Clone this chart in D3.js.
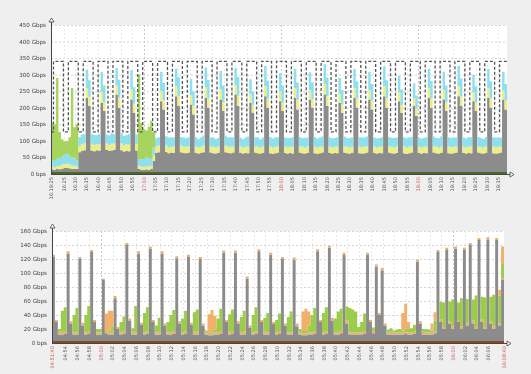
<!DOCTYPE html>
<html>
<head>
<meta charset="utf-8">
<script src="https://cdn.jsdelivr.net/npm/d3@7"></script>
<style>
  html, body { margin: 0; padding: 0; background: #efefef; }
  svg { display: block; font-family: "DejaVu Sans", sans-serif; }
</style>
</head>
<body>
<div id="chart"></div>
<script>
// ---- upper graph: one sample every 65 s from 16:19:25 ----
const topStart = Date.UTC(2013, 9, 23, 16, 19, 25);
const topStep = 65;
const topYTicks = [0, 50, 100, 150, 200, 250, 300, 350, 400, 450];
const topStartLabel = '16:19:25';

const topGray = [
  14, 13, 15, 14, 16, 18,   18, 17, 15, 16, 15, 66,
  70, 72, 230, 205, 71, 69,  72, 70, 215, 190, 73, 70,
  71, 73, 240, 200, 72, 68,  70, 69, 225, 185, 71, 15,
  13, 12, 14, 13, 15, 40,    64, 66, 220, 195, 67, 63,
  65, 64, 235, 205, 66, 64,  63, 65, 210, 180, 64, 62,
  64, 66, 230, 200, 65, 63,  62, 64, 225, 190, 66, 64,
  63, 65, 240, 205, 64, 62,  64, 63, 215, 185, 65, 63,
  62, 64, 235, 200, 63, 61,  63, 65, 220, 190, 64, 62,
  64, 62, 230, 195, 65, 63,  62, 64, 225, 200, 63, 61,
  63, 65, 240, 205, 64, 62,  64, 63, 215, 185, 65, 63,
  62, 64, 230, 200, 63, 62,  63, 65, 225, 195, 64, 62,
  64, 63, 235, 200, 65, 63,  62, 64, 220, 185, 63, 61,
  63, 65, 205, 175, 64, 62,  64, 63, 230, 200, 65, 63,
  62, 64, 225, 190, 63, 62,  63, 65, 235, 205, 64, 62,
  64, 63, 220, 190, 65, 63,  62, 64, 230, 200, 63, 62,
  63, 65, 225, 195
];
const topYellow = [
  8, 7, 9, 10, 12, 12,       13, 12, 10, 9, 8, 18,
  19, 21, 30, 28, 20, 18,    18, 20, 32, 26, 19, 17,
  20, 19, 28, 30, 21, 18,    19, 20, 30, 27, 20, 10,
  9, 8, 9, 10, 9, 15,        18, 20, 31, 28, 19, 17,
  17, 19, 29, 30, 20, 18,    19, 18, 27, 25, 19, 17,
  18, 20, 32, 29, 18, 19,    17, 19, 30, 27, 20, 18,
  19, 18, 28, 31, 19, 17,    18, 20, 26, 24, 18, 19,
  17, 19, 31, 28, 20, 18,    19, 18, 29, 27, 19, 17,
  18, 20, 30, 29, 18, 19,    17, 19, 28, 26, 20, 18,
  19, 18, 32, 30, 19, 17,    18, 20, 27, 25, 18, 19,
  17, 19, 30, 28, 20, 18,    19, 18, 29, 27, 19, 17,
  18, 20, 31, 29, 18, 19,    17, 19, 26, 24, 20, 18,
  19, 18, 24, 22, 19, 17,    18, 20, 30, 28, 18, 19,
  17, 19, 29, 27, 20, 18,    19, 18, 31, 29, 19, 17,
  18, 20, 28, 26, 18, 19,    17, 19, 30, 28, 20, 18,
  19, 18, 29, 27
];
const topCyan = [
  18, 20, 22, 25, 24, 28,    30, 26, 25, 22, 18, 28,
  30, 27, 55, 50, 29, 31,    28, 30, 60, 48, 27, 30,
  31, 28, 52, 55, 30, 29,    29, 31, 58, 50, 28, 20,
  22, 25, 28, 25, 22, 25,    27, 25, 57, 52, 28, 30,
  29, 27, 55, 58, 26, 28,    26, 28, 50, 45, 29, 27,
  28, 30, 60, 55, 27, 29,    27, 26, 56, 50, 30, 28,
  29, 28, 52, 58, 27, 26,    28, 30, 45, 40, 28, 29,
  26, 27, 60, 54, 29, 28,    29, 28, 55, 50, 27, 30,
  27, 29, 58, 52, 28, 27,    30, 27, 54, 50, 29, 28,
  28, 30, 60, 56, 27, 29,    27, 28, 48, 44, 30, 27,
  29, 27, 57, 52, 28, 30,    28, 30, 55, 50, 27, 28,
  27, 28, 59, 54, 29, 27,    30, 27, 50, 46, 28, 29,
  28, 29, 45, 40, 27, 28,    27, 28, 58, 53, 30, 27,
  29, 30, 55, 50, 28, 29,    28, 27, 60, 55, 27, 28,
  30, 28, 52, 48, 29, 27,    27, 29, 57, 52, 28, 30,
  28, 27, 55, 50
];
const topGreen = [
  114, 110, 244, 78, 53, 41, 39, 56, 210, 94, 110, 0,
  0, 0, 0, 0, 0, 0,          0, 0, 2, 3, 0, 0,
  0, 0, 0, 0, 0, 0,          0, 0, 0, 0, 0, 255,
  110, 90, 80, 95, 115, 45,  0, 0, 0, 0, 0, 0,
  0, 0, 0, 0, 0, 0,          0, 0, 0, 0, 0, 0,
  0, 0, 0, 0, 0, 0,          0, 0, 0, 0, 0, 0,
  0, 0, 0, 0, 0, 0,          0, 0, 0, 0, 0, 0,
  0, 0, 0, 0, 0, 0,          0, 0, 0, 0, 0, 0,
  0, 0, 0, 0, 0, 0,          0, 0, 0, 0, 0, 0,
  0, 0, 0, 0, 0, 0,          0, 0, 0, 0, 0, 0,
  0, 0, 0, 0, 0, 0,          0, 0, 0, 0, 0, 0,
  0, 0, 0, 0, 0, 0,          0, 0, 0, 0, 0, 0,
  0, 0, 0, 0, 0, 0,          0, 0, 0, 0, 0, 0,
  0, 0, 0, 0, 0, 0,          0, 0, 0, 0, 0, 0,
  0, 0, 0, 0, 0, 0,          0, 0, 0, 0, 0, 0,
  0, 0, 0, 0
];
// dashed limit line
const topLimit = [
  127, 340, 340, 340, 340, 127,  127, 340, 340, 340, 340, 127,
  127, 340, 340, 340, 340, 127,  127, 340, 340, 340, 340, 127,
  127, 340, 340, 340, 340, 127,  127, 340, 340, 340, 340, 127,
  127, 340, 340, 340, 340, 127,  127, 340, 340, 340, 340, 127,
  127, 340, 340, 340, 340, 127,  127, 340, 340, 340, 340, 127,
  127, 340, 340, 340, 340, 127,  127, 340, 340, 340, 340, 127,
  127, 340, 340, 340, 340, 127,  127, 340, 340, 340, 340, 127,
  127, 340, 340, 340, 340, 127,  127, 340, 340, 340, 340, 127,
  127, 340, 340, 340, 340, 127,  127, 340, 340, 340, 340, 127,
  127, 340, 340, 340, 340, 127,  127, 340, 340, 340, 340, 127,
  127, 340, 340, 340, 340, 127,  127, 340, 340, 340, 340, 127,
  127, 340, 340, 340, 340, 127,  127, 340, 340, 340, 340, 127,
  127, 340, 340, 340, 340, 127,  127, 340, 340, 340, 340, 127,
  127, 340, 340, 340, 340, 127,  127, 340, 340, 340, 340, 127,
  127, 340, 340, 340, 340, 127,  127, 340, 340, 340, 340, 127,
  127, 340, 340, 340
];

// ---- lower graph: one sample every 30 s from 04:51:40 ----
const botStart = Date.UTC(2013, 9, 24, 4, 51, 40);
const botStep = 30;
const botYTicks = [0, 20, 40, 60, 80, 100, 120, 140, 160];
const botStartLabel = '04:51:40';
const botEndLabel = '06:08:40';

const botGray = [
  123, 30, 12, 12, 13, 128, 28, 12,   12, 120, 25, 12, 13, 130, 30, 12,
  12, 90, 14, 12, 12, 64, 20, 12,     13, 140, 32, 12, 12, 128, 26, 12,
  13, 135, 30, 12, 12, 128, 25, 12,   12, 13, 121, 28, 12, 13, 123, 26,
  12, 12, 120, 25, 12, 11, 11, 12,    12, 13, 129, 30, 12, 13, 129, 28,
  12, 12, 92, 22, 12, 13, 131, 30,    12, 12, 126, 27, 12, 13, 120, 25,
  12, 12, 119, 24, 12, 11, 11, 12,    12, 13, 131, 30, 12, 13, 136, 32,
  12, 12, 14, 126, 28, 12, 12, 12,    12, 12, 13, 126, 30, 14, 109, 40,
  104, 25, 12, 12, 12, 12, 12, 12,    13, 12, 12, 13, 116, 28, 12, 12,
  12, 12, 14, 130, 30, 20, 133, 28,   20, 135, 30, 20, 133, 25, 140, 28,
  20, 147, 30, 20, 148, 28, 20, 147,  25, 90
];
const botTan = [
  3, 3, 3, 4, 3, 3, 3, 3,   3, 3, 4, 3, 3, 3, 3, 3,
  3, 2, 3, 3, 4, 3, 3, 3,   3, 3, 3, 4, 3, 3, 3, 3,
  3, 3, 3, 3, 4, 3, 3, 3,   3, 4, 3, 3, 3, 3, 3, 3,
  4, 3, 3, 3, 3, 3, 4, 3,   3, 3, 3, 3, 4, 3, 3, 3,
  3, 4, 3, 3, 3, 3, 3, 3,   4, 3, 3, 3, 3, 4, 3, 3,
  3, 3, 3, 4, 3, 3, 3, 3,   3, 4, 3, 3, 3, 3, 3, 4,
  3, 3, 3, 3, 4, 3, 3, 3,   3, 3, 4, 3, 3, 3, 3, 3,
  3, 3, 3, 4, 3, 3, 3, 3,   4, 3, 3, 3, 3, 3, 4, 3,
  3, 3, 3, 3, 4, 3, 3, 3,   4, 3, 3, 4, 3, 3, 3, 4,
  3, 3, 4, 3, 3, 3, 4, 3,   3, 3
];
const botGreen = [
  0, 0, 5, 30, 35, 0, 0, 25,    35, 0, 0, 25, 37, 0, 0, 5,
  5, 0, 0, 3, 8, 0, 0, 15,      22, 0, 0, 5, 38, 0, 0, 28,
  35, 0, 0, 10, 20, 0, 0, 15,   25, 30, 0, 0, 20, 30, 0, 0,
  28, 33, 0, 0, 3, 2, 2, 4,     20, 33, 0, 0, 25, 32, 0, 0,
  22, 30, 0, 0, 25, 35, 0, 0,   20, 28, 0, 0, 18, 25, 0, 0,
  22, 30, 0, 0, 5, 3, 3, 10,    25, 33, 0, 0, 28, 35, 0, 0,
  20, 30, 32, 0, 20, 35, 33, 30, 8, 15, 25, 0, 0, 5, 0, 0,
  0, 0, 4, 5, 3, 4, 5, 3,       4, 5, 6, 10, 0, 0, 4, 5,
  4, 3, 15, 0, 25, 35, 0, 28,   38, 0, 25, 40, 0, 35, 0, 30,
  45, 0, 32, 42, 0, 35, 45, 0,  40, 20
];
const botOrange = [
  0, 0, 0, 0, 0, 0, 0, 0,       0, 0, 0, 0, 0, 0, 0, 0,
  0, 0, 25, 28, 22, 0, 0, 0,    0, 0, 0, 0, 0, 0, 0, 0,
  0, 0, 0, 0, 0, 0, 0, 0,       0, 0, 0, 0, 0, 0, 0, 0,
  0, 0, 0, 0, 0, 25, 30, 20,    0, 0, 0, 0, 0, 0, 0, 0,
  0, 0, 0, 0, 0, 0, 0, 0,       0, 0, 0, 0, 0, 0, 0, 0,
  0, 0, 0, 0, 0, 28, 32, 20,    0, 0, 0, 0, 0, 0, 0, 0,
  0, 0, 0, 0, 0, 0, 0, 0,       0, 0, 0, 0, 0, 0, 0, 0,
  0, 0, 0, 0, 0, 0, 0, 25,      35, 10, 0, 0, 0, 0, 0, 0,
  0, 10, 12, 0, 0, 0, 0, 0,     0, 0, 0, 0, 0, 0, 0, 0,
  0, 0, 0, 0, 0, 0, 0, 0,       8, 25
];

const width = 531, height = 374;
const svg = d3.select('#chart').append('svg')
  .attr('width', width)
  .attr('height', height)
  .style('background', '#efefef');

// the reference screenshot is soft, so everything is blurred slightly
svg.append('defs').append('filter')
  .attr('id', 'soft')
  .attr('x', '-5%').attr('y', '-5%').attr('width', '110%').attr('height', '110%')
  .append('feGaussianBlur')
  .attr('stdDeviation', 0.45);

function gbps(v) {
  return v === 0 ? '0 bps' : v + ' Gbps';
}

function drawGraph(g) {
  const n = g.series[0].values.length;
  const t0 = g.start, t1 = g.start + n * g.step * 1000;
  const x = d3.scaleUtc().domain([t0, t1]).range([g.left, g.right]);
  const y = d3.scaleLinear().domain([0, g.yMax]).range([g.bottom, g.top]);
  const root = svg.append('g').attr('filter', 'url(#soft)');

  root.append('rect')
    .attr('x', g.left).attr('y', g.top)
    .attr('width', g.right - g.left).attr('height', g.bottom - g.top)
    .attr('fill', '#ffffff');

  // grid
  const ticks = x.ticks(d3.utcMinute.every(g.tickMinutes))
    .filter(t => x(t) - g.left > 8 && g.right - x(t) > 8);
  root.selectAll(null).data(g.yTicks.slice(1)).join('line')
    .attr('x1', g.left).attr('x2', g.right)
    .attr('y1', d => y(d) + 0.5).attr('y2', d => y(d) + 0.5)
    .attr('stroke', '#d4d4d4').attr('stroke-dasharray', '2,2');
  root.selectAll(null).data(ticks).join('line')
    .attr('x1', d => Math.round(x(d)) + 0.5).attr('x2', d => Math.round(x(d)) + 0.5)
    .attr('y1', g.top).attr('y2', g.bottom)
    .attr('stroke', d => d.getUTCMinutes() === 0 ? '#c8c8c8' : '#e8e8e8')
    .attr('stroke-dasharray', '2,2');

  // stacked areas
  const rows = d3.range(n).map(i => {
    const r = { t: t0 + i * g.step * 1000 };
    g.series.forEach(s => { r[s.key] = s.values[i]; });
    return r;
  });
  rows.push(Object.assign({}, rows[n - 1], { t: t1 }));
  const stacked = d3.stack().keys(g.series.map(s => s.key))(rows);
  const area = d3.area()
    .curve(d3.curveStepAfter)
    .x(d => x(d.data.t))
    .y0(d => y(d[0]))
    .y1(d => y(d[1]));
  root.selectAll(null).data(stacked).join('path')
    .attr('d', area)
    .attr('fill', (d, i) => g.series[i].color);

  // plain lines
  (g.lines || []).forEach(ln => {
    const pts = ln.values.map((v, i) => [t0 + i * g.step * 1000, v]);
    pts.push([t1, ln.values[n - 1]]);
    root.append('path')
      .attr('d', d3.line().curve(d3.curveStepAfter).x(d => x(d[0])).y(d => y(d[1]))(pts))
      .attr('fill', 'none')
      .attr('stroke', ln.color)
      .attr('stroke-width', ln.width)
      .attr('stroke-dasharray', ln.dash);
  });

  // zero line of the first item
  root.append('line')
    .attr('x1', g.left).attr('x2', g.right)
    .attr('y1', y(0) - 1).attr('y2', y(0) - 1)
    .attr('stroke', g.baseColor).attr('stroke-width', 2);

  // axes
  root.append('line')
    .attr('x1', g.left + 0.5).attr('x2', g.left + 0.5)
    .attr('y1', g.bottom).attr('y2', g.top - 5)
    .attr('stroke', '#444');
  root.append('line')
    .attr('x1', g.left).attr('x2', g.right + 4)
    .attr('y1', g.bottom + 0.5).attr('y2', g.bottom + 0.5)
    .attr('stroke', '#444');
  root.append('path')
    .attr('d', `M${g.left - 2},${g.top - 3} L${g.left + 0.5},${g.top - 7} L${g.left + 3},${g.top - 3} Z`)
    .attr('fill', '#fff').attr('stroke', '#444').attr('stroke-width', 0.8);
  root.append('path')
    .attr('d', `M${g.right + 3},${g.bottom - 2} L${g.right + 7},${g.bottom + 0.5} L${g.right + 3},${g.bottom + 3} Z`)
    .attr('fill', '#fff').attr('stroke', '#444').attr('stroke-width', 0.8);

  // y labels
  root.selectAll(null).data(g.yTicks).join('text')
    .attr('x', g.left - 5)
    .attr('y', d => y(d))
    .attr('dy', '0.35em')
    .attr('text-anchor', 'end')
    .style('font-size', '5.6px')
    .style('fill', '#444')
    .text(gbps);

  // x labels, rotated
  const fmt = d3.utcFormat('%H:%M');
  const xl = ticks.map(t => ({ pos: x(t), text: fmt(t), red: t.getUTCMinutes() === 0 }));
  xl.unshift({ pos: g.left, text: g.startLabel, red: g.edgeRed });
  if (g.endLabel) xl.push({ pos: g.right, text: g.endLabel, red: true });
  root.selectAll(null).data(xl).join('text')
    .attr('transform', d => `translate(${d.pos},${g.bottom + 3}) rotate(-90)`)
    .attr('dy', '0.35em')
    .attr('text-anchor', 'end')
    .style('font-size', '5px')
    .style('fill', d => d.red ? '#cc5555' : '#555')
    .text(d => d.text);
}

drawGraph({
  left: 51, right: 507, top: 25, bottom: 174,
  start: topStart, step: topStep, yMax: 450, yTicks: topYTicks,
  tickMinutes: 5, startLabel: topStartLabel, edgeRed: false,
  baseColor: '#4b6b2b',
  series: [
    { key: 'gray', values: topGray, color: '#8c8c8c' },
    { key: 'yellow', values: topYellow, color: '#eeee88' },
    { key: 'cyan', values: topCyan, color: '#8ee0ee' },
    { key: 'green', values: topGreen, color: '#a6d45c' }
  ],
  lines: [
    { values: topLimit, color: '#555555', width: 1.3, dash: '3,2' }
  ]
});

drawGraph({
  left: 52, right: 504, top: 231, bottom: 343,
  start: botStart, step: botStep, yMax: 160, yTicks: botYTicks,
  tickMinutes: 2, startLabel: botStartLabel, endLabel: botEndLabel, edgeRed: true,
  baseColor: '#8a4a22',
  series: [
    { key: 'gray', values: botGray, color: '#8c8c8c' },
    { key: 'tan', values: botTan, color: '#e8b070' },
    { key: 'green', values: botGreen, color: '#9ccc4c' },
    { key: 'orange', values: botOrange, color: '#f2b06a' }
  ]
});
</script>
</body>
</html>
